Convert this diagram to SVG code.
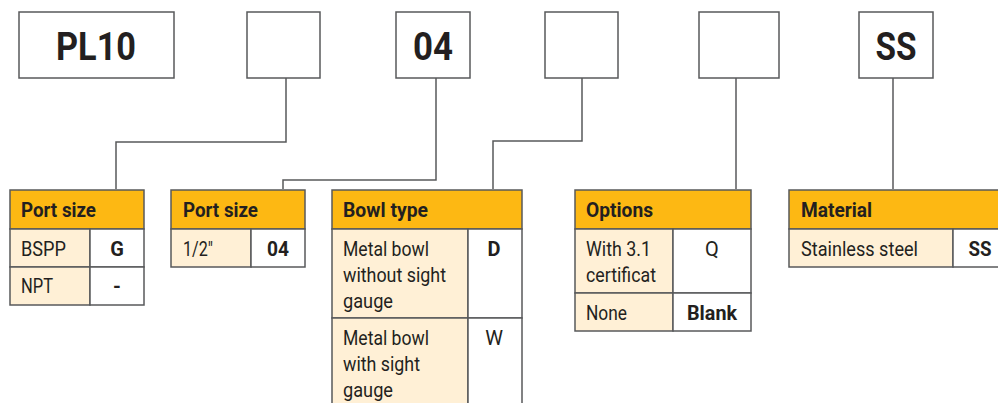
<svg xmlns="http://www.w3.org/2000/svg" width="998" height="403" viewBox="0 0 998 403">
<style>
.box{fill:#fff;stroke:#58595b;stroke-width:1.5}
.hd{fill:#fdb813;stroke:#58595b;stroke-width:1.5}
.lb{fill:#fff0d6;stroke:#58595b;stroke-width:1.5}
.vl{fill:#fff;stroke:#58595b;stroke-width:1.5}
.cn{fill:none;stroke:#58595b;stroke-width:1.5}
text{font-family:Roboto,"Liberation Sans",sans-serif;fill:#231f20}
.big{font-size:38px;font-weight:bold;text-anchor:middle}
.h{font-size:21px;font-weight:bold}
.t{font-size:20px}
.b{font-size:20px;font-weight:bold;text-anchor:middle}
.c{font-size:20px;text-anchor:middle}
</style>
<g id="connectors">
<polyline class="cn" points="286,78 286,142 116,142 116,189"/>
<polyline class="cn" points="436,78 436,180 283,180 283,189"/>
<polyline class="cn" points="582,78 582,141 493,141 493,189"/>
<polyline class="cn" points="736,78 736,189"/>
<polyline class="cn" points="893,78 893,189"/>
</g>
<g id="code-pl10"><rect class="box" x="19" y="12" width="155" height="66"/><text class="big" x="96" y="60" textLength="80" lengthAdjust="spacingAndGlyphs">PL10</text></g>
<g id="code-2"><rect class="box" x="247" y="12" width="73" height="66"/></g>
<g id="code-04"><rect class="box" x="396" y="12" width="74" height="66"/><text class="big" x="433" y="60" textLength="40" lengthAdjust="spacingAndGlyphs">04</text></g>
<g id="code-4"><rect class="box" x="545" y="12" width="73" height="66"/></g>
<g id="code-5"><rect class="box" x="699" y="12" width="80" height="66"/></g>
<g id="code-ss"><rect class="box" x="859" y="12" width="74" height="66"/><text class="big" x="896" y="60" textLength="41" lengthAdjust="spacingAndGlyphs">SS</text></g>

<g id="table-port-size-1">
<rect class="hd" x="10" y="190" width="134" height="39"/>
<text class="h" x="21" y="217" textLength="75" lengthAdjust="spacingAndGlyphs">Port size</text>
<rect class="lb" x="10" y="229" width="80" height="38"/><rect class="vl" x="90" y="229" width="54" height="38"/>
<rect class="lb" x="10" y="267" width="80" height="38"/><rect class="vl" x="90" y="267" width="54" height="38"/>
<text class="t" x="21" y="256" textLength="45" lengthAdjust="spacingAndGlyphs">BSPP</text>
<text class="b" x="117" y="256">G</text>
<text class="t" x="21" y="293" textLength="32" lengthAdjust="spacingAndGlyphs">NPT</text>
<text class="b" x="117" y="293">-</text>
</g>

<g id="table-port-size-2">
<rect class="hd" x="171" y="190" width="134" height="39"/>
<text class="h" x="183" y="217" textLength="75" lengthAdjust="spacingAndGlyphs">Port size</text>
<rect class="lb" x="171" y="229" width="80" height="38"/><rect class="vl" x="251" y="229" width="54" height="38"/>
<text class="t" x="183" y="256" textLength="30" lengthAdjust="spacingAndGlyphs">1/2"</text>
<text class="b" x="278" y="256" textLength="22" lengthAdjust="spacingAndGlyphs">04</text>
</g>

<g id="table-bowl-type">
<rect class="hd" x="332" y="190" width="190" height="39"/>
<text class="h" x="343" y="217" textLength="85" lengthAdjust="spacingAndGlyphs">Bowl type</text>
<rect class="lb" x="332" y="229" width="136" height="89"/><rect class="vl" x="468" y="229" width="54" height="89"/>
<rect class="lb" x="332" y="318" width="136" height="95"/><rect class="vl" x="468" y="318" width="54" height="95"/>
<text class="t" x="343" y="256" textLength="86" lengthAdjust="spacingAndGlyphs">Metal bowl</text>
<text class="t" x="343" y="282" textLength="103" lengthAdjust="spacingAndGlyphs">without sight</text>
<text class="t" x="343" y="308" textLength="50" lengthAdjust="spacingAndGlyphs">gauge</text>
<text class="b" x="494" y="256">D</text>
<text class="t" x="343" y="345" textLength="86" lengthAdjust="spacingAndGlyphs">Metal bowl</text>
<text class="t" x="343" y="371" textLength="77" lengthAdjust="spacingAndGlyphs">with sight</text>
<text class="t" x="343" y="397" textLength="50" lengthAdjust="spacingAndGlyphs">gauge</text>
<text class="c" x="494" y="345">W</text>
</g>

<g id="table-options">
<rect class="hd" x="575" y="190" width="176" height="39"/>
<text class="h" x="586" y="217" textLength="67" lengthAdjust="spacingAndGlyphs">Options</text>
<rect class="lb" x="575" y="229" width="98" height="64"/><rect class="vl" x="673" y="229" width="78" height="64"/>
<rect class="lb" x="575" y="293" width="98" height="38"/><rect class="vl" x="673" y="293" width="78" height="38"/>
<text class="t" x="586" y="256" textLength="65" lengthAdjust="spacingAndGlyphs">With 3.1</text>
<text class="t" x="586" y="282" textLength="70" lengthAdjust="spacingAndGlyphs">certificat</text>
<text class="c" x="712" y="256">Q</text>
<text class="t" x="586" y="320" textLength="41" lengthAdjust="spacingAndGlyphs">None</text>
<text class="b" x="712" y="320" textLength="50" lengthAdjust="spacingAndGlyphs">Blank</text>
</g>

<g id="table-material">
<rect class="hd" x="789" y="190" width="220" height="39"/>
<text class="h" x="801" y="217" textLength="71" lengthAdjust="spacingAndGlyphs">Material</text>
<rect class="lb" x="789" y="229" width="164" height="38"/><rect class="vl" x="953" y="229" width="56" height="38"/>
<text class="t" x="801" y="256" textLength="117" lengthAdjust="spacingAndGlyphs">Stainless steel</text>
<text class="b" x="980" y="256" textLength="23" lengthAdjust="spacingAndGlyphs">SS</text>
</g>
</svg>
